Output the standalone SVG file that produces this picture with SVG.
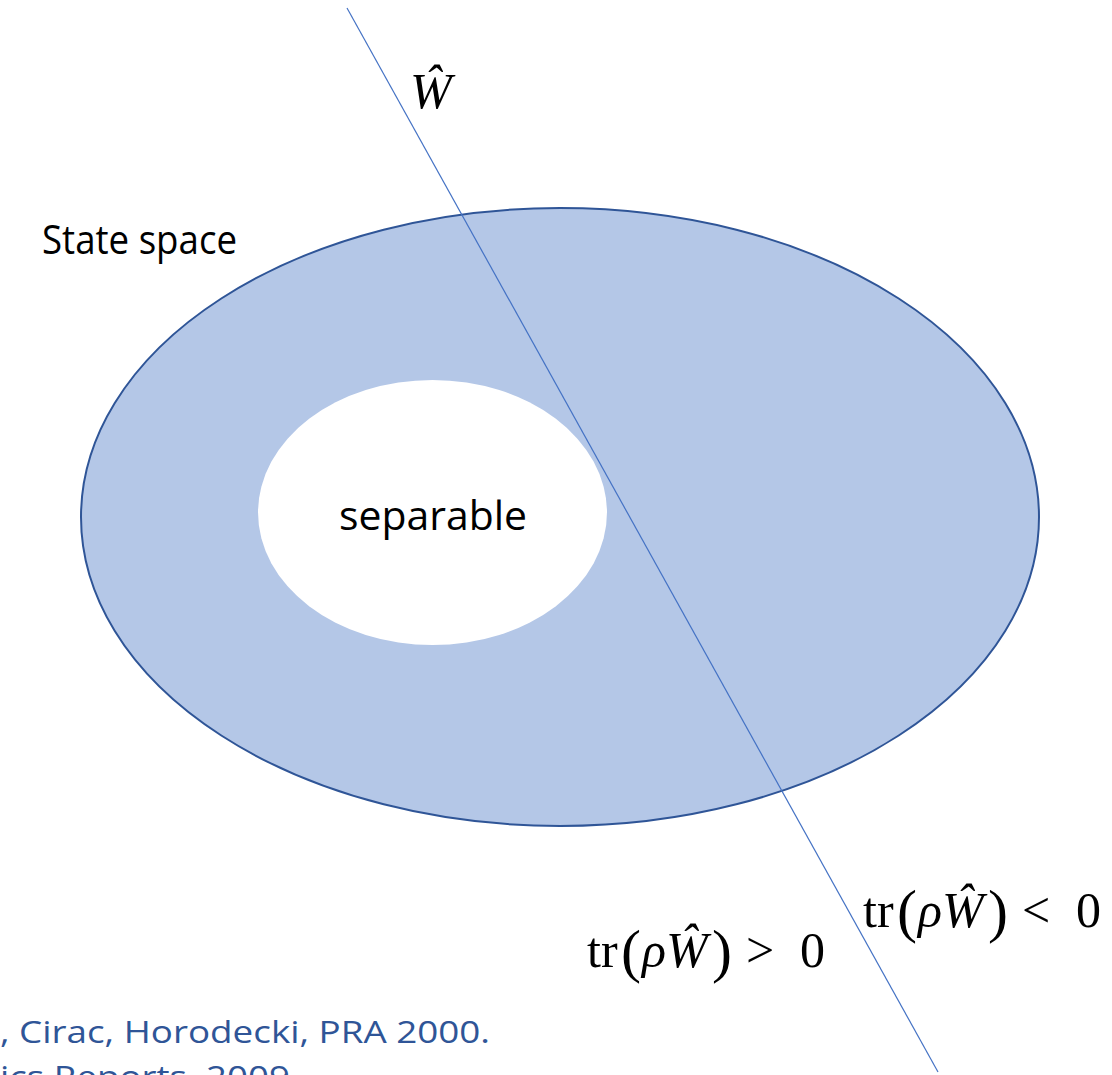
<svg xmlns="http://www.w3.org/2000/svg" width="1112" height="1075" viewBox="0 0 1112 1075">
<style>
.lbl{font-family:"Open Sans","Liberation Sans",sans-serif;fill:#000}
.math{font-family:"Liberation Serif","DejaVu Serif",serif;fill:#000;font-size:50px}
.it{font-style:italic}
.par{font-size:60px}
.ref{font-family:"Open Sans","Liberation Sans",sans-serif;fill:#2F5597;font-size:31px}
</style>
<rect width="1112" height="1075" fill="#fff"/>
<g id="state-space">
<ellipse cx="560" cy="517" rx="479" ry="309" fill="#B4C7E7" stroke="#2F5597" stroke-width="2"/>
<text class="lbl" x="42" y="254" font-size="41" textLength="195" lengthAdjust="spacingAndGlyphs">State space</text>
</g>
<g id="separable">
<ellipse cx="432.5" cy="512.5" rx="174.5" ry="132.5" fill="#fff"/>
<text class="lbl" x="339" y="530" font-size="40" textLength="188" lengthAdjust="spacingAndGlyphs">separable</text>
</g>
<g id="connectors">
<line x1="347" y1="8" x2="938" y2="1072" stroke="#4472C4" stroke-width="1.2"/>
</g>
<g id="witness-label">
<text class="math it" x="410" y="108" font-size="50">Ŵ</text>
</g>
<g id="positive-label">
<text class="math" y="967"><tspan x="587">tr</tspan><tspan class="par" x="621" dy="4">(</tspan><tspan class="it" x="642" dy="-4">ρŴ</tspan><tspan class="par" x="712" dy="4">)</tspan><tspan x="746" dy="-4">&gt;</tspan><tspan x="800">0</tspan></text>
</g>
<g id="negative-label">
<text class="math" y="927"><tspan x="863">tr</tspan><tspan class="par" x="897" dy="4">(</tspan><tspan class="it" x="918" dy="-4">ρŴ</tspan><tspan class="par" x="988" dy="4">)</tspan><tspan x="1022" dy="-4">&lt;</tspan><tspan x="1076">0</tspan></text>
</g>
<g id="references">
<text class="ref" x="0" y="1043" textLength="490" lengthAdjust="spacingAndGlyphs">, Cirac, Horodecki, PRA 2000.</text>
<text class="ref" x="0" y="1088" textLength="290" lengthAdjust="spacingAndGlyphs">ics Reports, 2009</text>
</g>
</svg>
